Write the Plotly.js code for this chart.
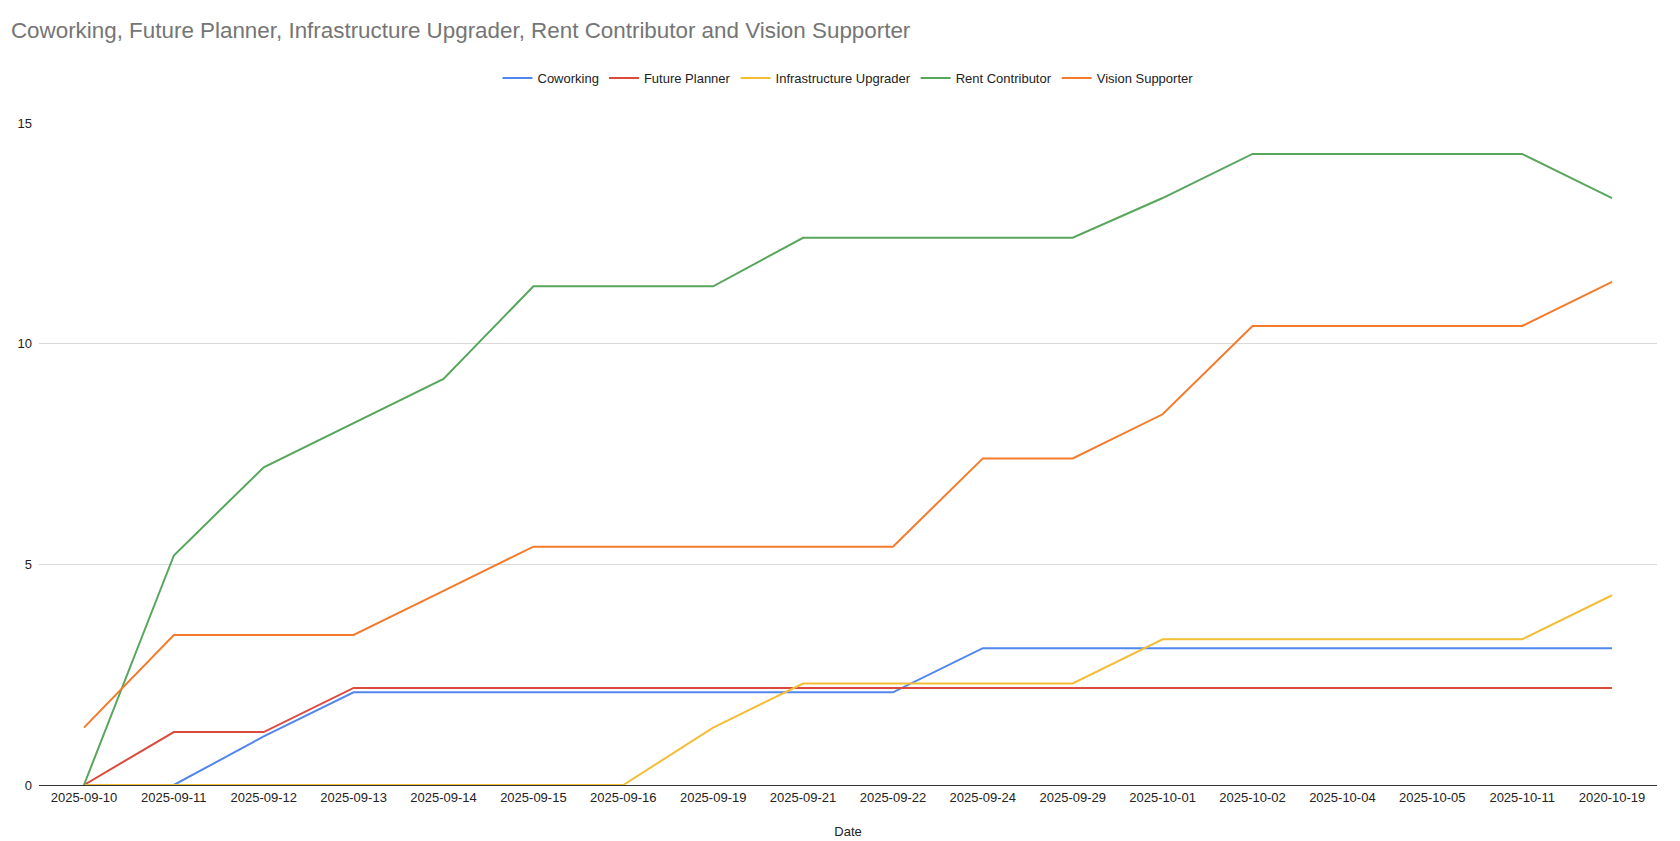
<!DOCTYPE html>
<html>
<head>
<meta charset="utf-8">
<script src="https://cdn.plot.ly/plotly-3.0.1.min.js"></script>
<style>html,body{margin:0;padding:0;background:#fff;}#chart{width:1680px;height:841px;}</style>
</head>
<body>
<div id="chart"></div>
<script>
const dates = ["2025-09-10","2025-09-11","2025-09-12","2025-09-13","2025-09-14","2025-09-15","2025-09-16","2025-09-19","2025-09-21","2025-09-22","2025-09-24","2025-09-29","2025-10-01","2025-10-02","2025-10-04","2025-10-05","2025-10-11","2020-10-19"];
const coworking = [0,0,1.1,2.1,2.1,2.1,2.1,2.1,2.1,2.1,3.1,3.1,3.1,3.1,3.1,3.1,3.1,3.1];
const futurePlanner = [0,1.2,1.2,2.2,2.2,2.2,2.2,2.2,2.2,2.2,2.2,2.2,2.2,2.2,2.2,2.2,2.2,2.2];
const infraUpgrader = [0,0,0,0,0,0,0,1.3,2.3,2.3,2.3,2.3,3.3,3.3,3.3,3.3,3.3,4.3];
const rentContributor = [0,5.2,7.2,8.2,9.2,11.3,11.3,11.3,12.4,12.4,12.4,12.4,13.3,14.3,14.3,14.3,14.3,13.3];
const visionSupporter = [1.3,3.4,3.4,3.4,4.4,5.4,5.4,5.4,5.4,5.4,7.4,7.4,8.4,10.4,10.4,10.4,10.4,11.4];
const seriesNames = ["Coworking","Future Planner","Infrastructure Upgrader","Rent Contributor","Vision Supporter"];
const yTicks = [0,5,10,15];

const colors = ["#5086EE","#DC4A3E","#F3BE36","#58A65C","#F47A2C"];
const allSeries = [coworking, futurePlanner, infraUpgrader, rentContributor, visionSupporter];
const traces = allSeries.map((vals, i) => ({
  x: dates, y: vals, type: "scatter", mode: "lines", name: seriesNames[i],
  line: {color: colors[i], width: 2}
}));

const layout = {
  width: 1680, height: 841,
  margin: {l: 39, r: 23, t: 123, b: 56},
  paper_bgcolor: "#fff", plot_bgcolor: "#fff",
  font: {family: "Liberation Sans, Arial, sans-serif", color: "#222", size: 13},
  title: {text: "Coworking, Future Planner, Infrastructure Upgrader, Rent Contributor and Vision Supporter",
    xref: "container", x: 0.0065, xanchor: "left", yref: "container", y: 1 - 30/841, yanchor: "middle",
    font: {size: 22.4, color: "#757575", family: "Liberation Sans, Arial, sans-serif"}},
  showlegend: true,
  legend: {orientation: "h", x: 0.5, xanchor: "center", y: 1.068, yanchor: "middle",
    font: {size: 13, color: "#222"}, itemwidth: 30, traceorder: "normal"},
  xaxis: {type: "category", range: [-0.5, 17.5], showgrid: false, zeroline: false,
    showline: true, linecolor: "#333", linewidth: 1, ticks: "", tickfont: {size: 13, color: "#222"},
    title: {text: "Date", font: {size: 13, color: "#222"}, standoff: 23}, automargin: false, fixedrange: true},
  yaxis: {range: [0, 15], tickvals: yTicks, ticktext: yTicks.map(String), showgrid: true, gridcolor: "#d9d9d9",
    zeroline: false, showline: false, ticks: "", ticklabelstandoff: 6, tickfont: {size: 13, color: "#222"}, automargin: false, fixedrange: true}
};

Plotly.newPlot("chart", traces, layout, {displayModeBar: false, staticPlot: true});
</script>
</body>
</html>
